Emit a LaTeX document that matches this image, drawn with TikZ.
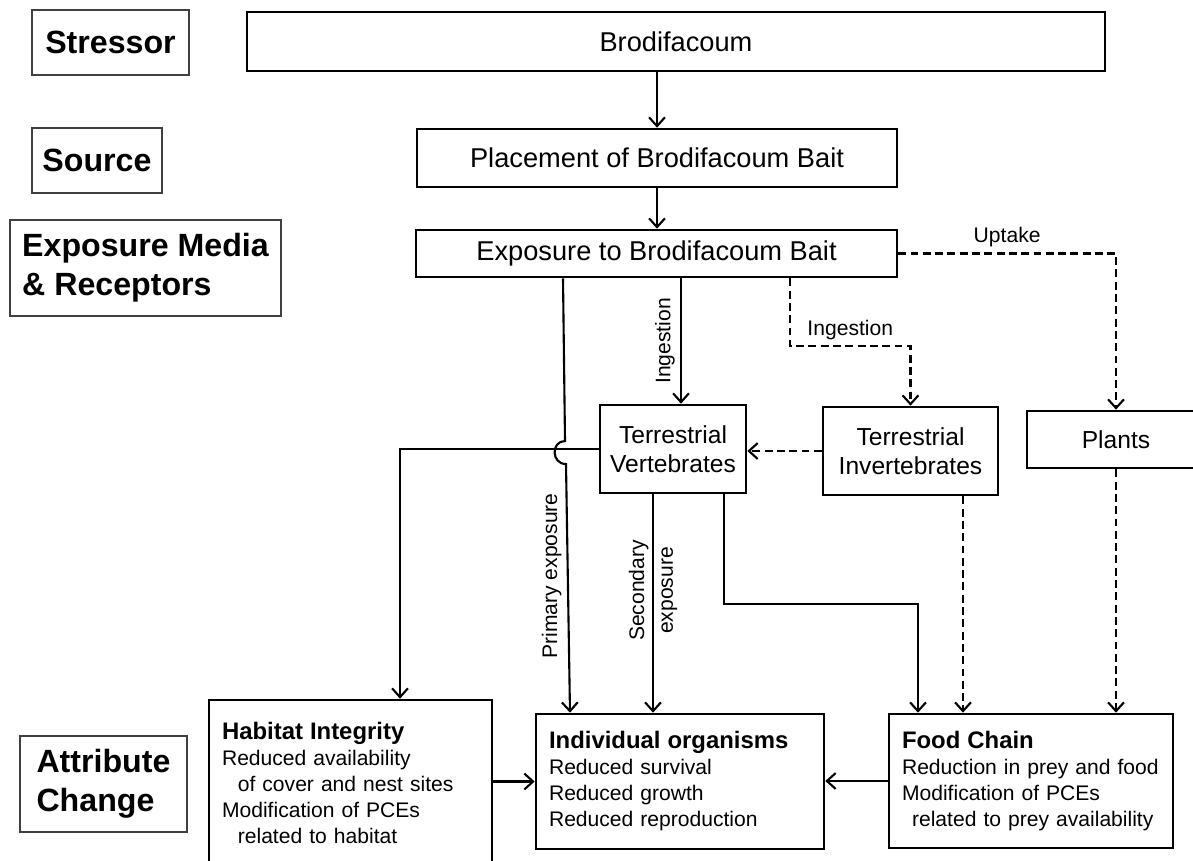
\documentclass[tikz,border=0pt]{standalone}
\usepackage{fontspec}
\setmainfont{Liberation Sans}
\usetikzlibrary{arrows.meta, positioning, calc}

\begin{document}
\begin{tikzpicture}[x=0.02cm, y=-0.02cm,
  tag/.style={draw=black!75, line width=0.9pt, inner sep=0pt, align=left,
    font=\fontsize{18.3}{22}\selectfont\bfseries},
  box/.style={draw, line width=1.5pt, inner sep=0pt, align=center},
  big/.style={box, font=\fontsize{15.5}{18}\selectfont},
  mid/.style={box, font=\fontsize{14}{16.4}\selectfont},
  effect/.style={draw, line width=1.5pt, inner ysep=0pt, inner xsep=0.26cm, align=left,
    font=\fontsize{12}{14.8}\selectfont},
  lbl/.style={font=\fontsize{12}{16.4}\selectfont, inner sep=3pt, align=center},
  arr/.style={-{Straight Barb[length=5pt, width=9pt]}, line width=1.2pt},
  darr/.style={arr, dash pattern=on 4.5pt off 2.5pt}]
  \useasboundingbox (0,0) rectangle (1193,860);
  \fill[white] (0,0) rectangle (1193,860);

  % Row labels
  \node[tag, minimum width=3.14cm, minimum height=1.3cm] (stressor) at (110.5,42.5) {Stressor};
  \node[tag, minimum width=2.6cm, minimum height=1.3cm] (source) at (97,160.5) {Source};
  \node[tag, minimum width=5.42cm, minimum height=1.92cm] (media) at (145.5,268) {Exposure Media\\\& Receptors};
  \node[tag, minimum width=3.34cm, minimum height=1.92cm] (attr) at (103.5,784) {Attribute\\Change};

  % Main chain
  \node[big, minimum width=17.16cm, minimum height=1.18cm] (brod) at (676,41.5) {Brodifacoum};
  \node[big, minimum width=9.6cm, minimum height=1.16cm] (place) at (657,158) {Placement of Brodifacoum Bait};
  \node[big, minimum width=9.62cm, minimum height=0.94cm] (expo) at (656.5,253.5) {Exposure to Brodifacoum Bait};

  % Receptors
  \node[mid, minimum width=2.92cm, minimum height=1.76cm] (vert) at (673,449) {Terrestrial\\Vertebrates};
  \node[mid, minimum width=3.5cm, minimum height=1.76cm] (invert) at (910.5,451) {Terrestrial\\Invertebrates};
  \node[mid, minimum width=3.56cm, minimum height=1.14cm] (plants) at (1116,439.5) {Plants};

  % Attribute changes
  \node[effect, text width=5.14cm, minimum height=3.32cm] (habitat) at (350.5,783) {%
    {\fontsize{13.6}{15.2}\selectfont\bfseries Habitat Integrity}\\
    Reduced availability\\
    \hspace*{9pt}of cover and nest sites\\
    Modification of PCEs\\
    \hspace*{9pt}related to habitat};
  \node[effect, text width=5.24cm, minimum height=2.7cm] (indiv) at (680,781.5) {%
    {\fontsize{13.6}{15.2}\selectfont\bfseries Individual organisms}\\
    Reduced survival\\
    Reduced growth\\
    Reduced reproduction};
  \node[effect, text width=5.16cm, minimum height=2.68cm] (food) at (1031,781) {%
    {\fontsize{13.6}{15.2}\selectfont\bfseries Food Chain}\\
    Reduction in prey and food\\
    Modification of PCEs\\
    \hspace*{5.7pt}related to prey availability};

  % Columns used by the connectors
  \coordinate (ingx) at (681,0);
  \coordinate (dx) at (790,0);
  \coordinate (dy) at (0,346);
  \coordinate (px) at (563,0);
  \coordinate (py) at (570,0);
  \coordinate (sx) at (653,0);
  \coordinate (fx) at (724,0);
  \coordinate (fy) at (0,604);
  \coordinate (fx2) at (918,0);
  \coordinate (hx) at (400,0);
  \coordinate (ix) at (963,0);

  % Stressor to exposure
  \draw[arr] (brod.south -| place.north) -- (place.north);
  \draw[arr] (place.south) -- (place.south |- expo.north);

  % Exposure pathways
  \draw[arr] (expo.south -| ingx) -- node[lbl, rotate=90, above] {Ingestion} (vert.north -| ingx);
  \draw[darr] (expo.south -| dx) -- (dx |- dy) -- node[lbl, above] {Ingestion} (invert.north |- dy) -- (invert.north);
  \draw[darr] (expo.east) -| node[lbl, pos=0.25, above] {Uptake} (plants.north);
  \draw[darr] (invert.west) -- (invert.west -| vert.east);

  % Primary exposure, hopping over the habitat line
  \draw[arr] (expo.south -| px) -- (565,441) .. controls (551,441) and (551,464) .. (566,464)
    -- node[lbl, rotate=90, above, pos=0.45] {Primary exposure} (indiv.north -| py);
  \draw[arr] (vert.west) -| (habitat.north -| hx);

  % Secondary exposure and food chain
  \draw[arr] (vert.south -| sx) -- node[lbl, rotate=90, pos=0.44] {Secondary\\exposure} (indiv.north -| sx);
  \draw[arr] (vert.south -| fx) |- (fy -| fx2) -- (food.north -| fx2);
  \draw[darr] (invert.south -| ix) -- (food.north -| ix);
  \draw[darr] (plants.south) -- (plants.south |- food.north);

  % Into individual organisms
  \draw[arr] (habitat.east |- indiv.west) -- (indiv.west);
  \draw[arr] (food.west) -- (food.west -| indiv.east);
\end{tikzpicture}
\end{document}
